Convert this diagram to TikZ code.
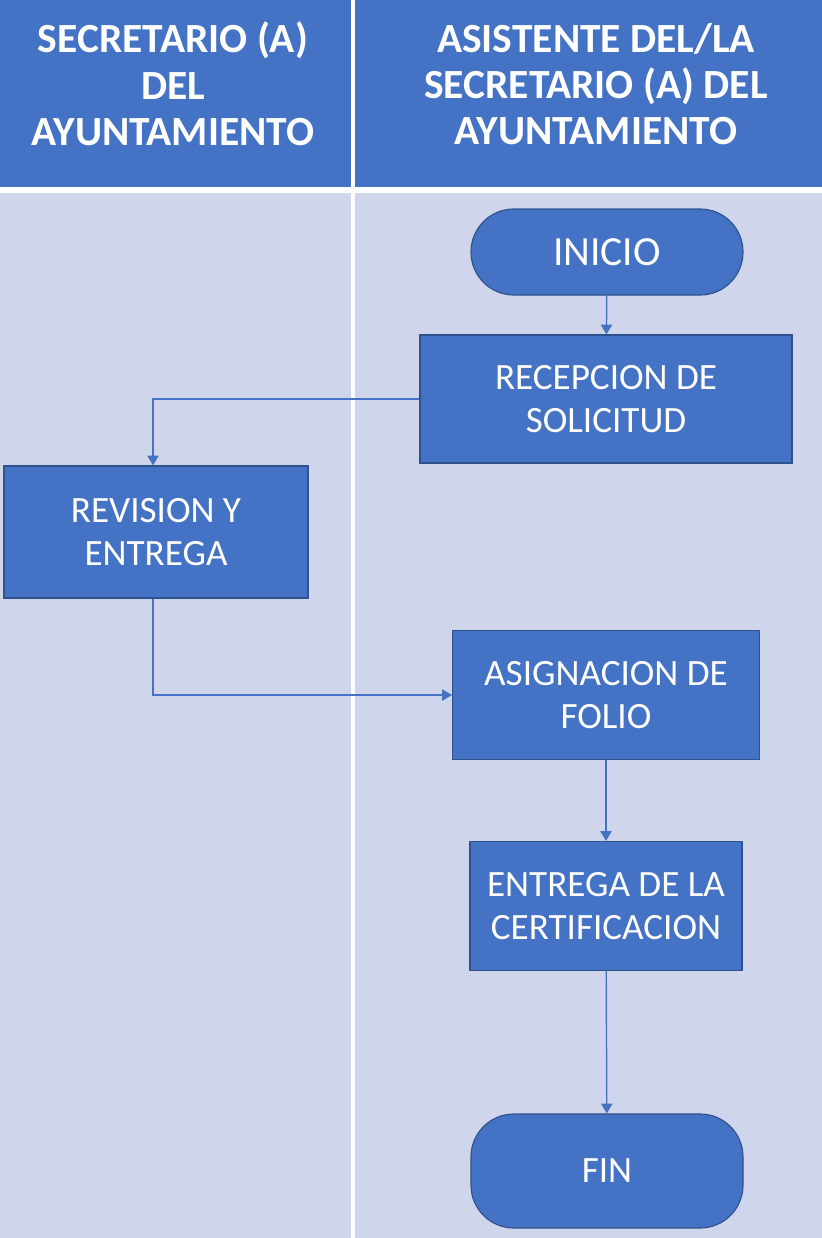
\documentclass[tikz,border=0pt]{standalone}
\usepackage{fontspec}
\setmainfont{Carlito}
\usetikzlibrary{arrows.meta,positioning}
\definecolor{laneblue}{HTML}{4472C4}
\definecolor{laneback}{HTML}{CFD5EA}
\definecolor{boxedge}{HTML}{2F528F}

\tikzset{
	lanehead/.style={text=white, font=\fontsize{29.5}{33}\selectfont\bfseries, align=center},
	procbox/.style={draw=boxedge, line width=0.8pt, fill=laneblue, text=white,
		font=\fontsize{26.4}{30.5}\selectfont, align=center, inner sep=0pt},
	termbox/.style={procbox, rounded corners=1.07cm},
	flow/.style={draw=laneblue, line width=1pt, -{Triangle[length=7pt,width=8pt]}}
}

\begin{document}
\begin{tikzpicture}[x=0.025cm, y=-0.025cm]

		% page frame and lanes
		\useasboundingbox (0,0) rectangle (822,1238);
		\fill[white] (0,0) rectangle (822,1238);
		\fill[laneblue] (0,0) rectangle (351,187);
		\fill[laneblue] (355,0) rectangle (822,187);
		\fill[laneback] (0,193) rectangle (351,1238);
		\fill[laneback] (355,193) rectangle (822,1238);

		% lane titles
		\node[lanehead] (leftlane) at (173,84) {SECRETARIO (A)\\DEL\\AYUNTAMIENTO};
		\node[lanehead] (rightlane) at (596,84) {ASISTENTE DEL/LA\\SECRETARIO (A) DEL\\AYUNTAMIENTO};

		% steps
		\node[termbox, minimum width=272*0.025cm, minimum height=86*0.025cm,
			font=\fontsize{29.5}{33}\selectfont] (inicio) at (607,252) {INICIO};
		\node[procbox, minimum width=372*0.025cm, minimum height=128*0.025cm] (recepcion) at (606,399) {RECEPCION DE\\SOLICITUD};
		\node[procbox, minimum width=304*0.025cm, minimum height=132*0.025cm] (revision) at (156,532) {REVISION Y\\ENTREGA};
		\node[procbox, minimum width=307*0.025cm, minimum height=129*0.025cm] (asignacion) at (606,695) {ASIGNACION DE\\FOLIO};
		\node[procbox, minimum width=272*0.025cm, minimum height=129*0.025cm] (entrega) at (606,906) {ENTREGA DE LA\\CERTIFICACION};
		\node[termbox, minimum width=272*0.025cm, minimum height=114*0.025cm] (fin) at (607,1171) {FIN};

		% connectors
		\draw[flow] (inicio) -- (recepcion);
		\draw[flow] (recepcion.west) -| (revision.north -| 153,0);
		\draw[flow] (revision.south -| 153,0) |- (asignacion.west);
		\draw[flow] (asignacion) -- (entrega);
		\draw[flow] (entrega) -- (fin);

	\end{tikzpicture}
\end{document}
